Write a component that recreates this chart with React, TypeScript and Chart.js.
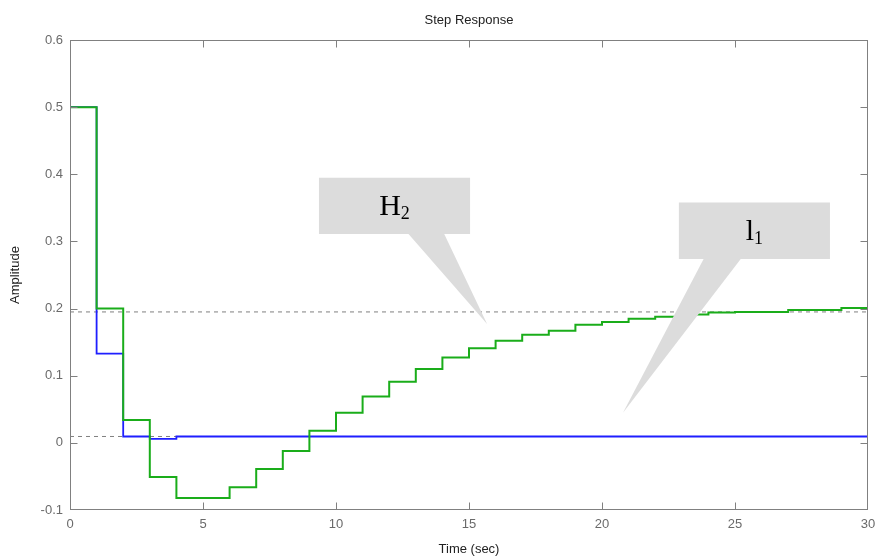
import React, { useEffect, useRef } from "react";
import { Chart, registerables } from "chart.js";

Chart.register(...registerables);

// time samples (sec) – each value holds from t to t+1
const timeSec = [0,1,2,3,4,5,6,7,8,9,10,11,12,13,14,15,16,17,18,19,20,21,22,23,24,25,26,27,28,29,30];
const greenH2 = [0.5,0.2,0.034,-0.051,-0.082,-0.082,-0.066,-0.039,-0.012,0.018,0.045,0.069,0.091,0.110,0.127,0.141,0.152,0.161,0.167,0.176,0.180,0.185,0.188,0.191,0.194,0.195,0.195,0.198,0.198,0.201,0.201];
const blueL1 = [0.5,0.133,0.0095,0.006,0.0095,0.0095,0.0095,0.0095,0.0095,0.0095,0.0095,0.0095,0.0095,0.0095,0.0095,0.0095,0.0095,0.0095,0.0095,0.0095,0.0095,0.0095,0.0095,0.0095,0.0095,0.0095,0.0095,0.0095,0.0095,0.0095,0.0095];
const steadyH2 = 0.195;
const steadyL1 = 0.0095;
const xTicks = [0,5,10,15,20,25,30];
const yTicks = [-0.1,0,0.1,0.2,0.3,0.4,0.5,0.6];

// callouts: box (t0,t1,vTop,vBot), tail base (tA,tB), tip (tTip,vTip)
const callouts = [
  { main: "H", sub: "2", t0: 9.36, t1: 15.04, vTop: 0.395, vBot: 0.311, tA: 12.71, tB: 14.06, tTip: 15.68, vTip: 0.177 },
  { main: "l", sub: "1", t0: 22.89, t1: 28.57, vTop: 0.358, vBot: 0.274, tA: 23.83, tB: 25.23, tTip: 20.79, vTip: 0.045 },
];

const frameColor = "#808080";

const framePlugin = {
  id: "matlabFrame",
  afterDatasetsDraw(chart: any) {
    const { ctx, chartArea: a, scales } = chart;
    const xs = scales.x, ys = scales.y;
    ctx.save();
    for (const c of callouts) {
      const l = xs.getPixelForValue(c.t0), r = xs.getPixelForValue(c.t1);
      const t = ys.getPixelForValue(c.vTop), b = ys.getPixelForValue(c.vBot);
      ctx.fillStyle = "#dcdcdc";
      ctx.beginPath();
      ctx.rect(l, t, r - l, b - t);
      ctx.fill();
      ctx.beginPath();
      ctx.moveTo(xs.getPixelForValue(c.tA), b - 0.5);
      ctx.lineTo(xs.getPixelForValue(c.tB), b - 0.5);
      ctx.lineTo(xs.getPixelForValue(c.tTip), ys.getPixelForValue(c.vTip));
      ctx.closePath();
      ctx.fill();
      ctx.fillStyle = "#000";
      ctx.textBaseline = "alphabetic";
      ctx.textAlign = "left";
      const mainFont = "30px 'Liberation Serif', 'Times New Roman', serif";
      const subFont = "18px 'Liberation Serif', 'Times New Roman', serif";
      ctx.font = mainFont;
      const mw = ctx.measureText(c.main).width;
      ctx.font = subFont;
      const sw = ctx.measureText(c.sub).width;
      const cx = (l + r) / 2, cy = (t + b) / 2;
      const x0 = cx - (mw + sw) / 2;
      ctx.font = mainFont;
      ctx.fillText(c.main, x0, cy + 9);
      ctx.font = subFont;
      ctx.fillText(c.sub, x0 + mw, cy + 13);
    }
    ctx.strokeStyle = frameColor;
    ctx.lineWidth = 1;
    const L = Math.round(a.left) + 0.5, R = Math.round(a.right) - 0.5;
    const T = Math.round(a.top) + 0.5, B = Math.round(a.bottom) - 0.5;
    ctx.strokeRect(L, T, R - L, B - T);
    const tl = 7;
    const clamp = (v: number, lo: number, hi: number) => Math.min(Math.max(v, lo), hi);
    ctx.beginPath();
    for (const v of xTicks) {
      const px = clamp(Math.round(xs.getPixelForValue(v)) + 0.5, L, R);
      ctx.moveTo(px, B); ctx.lineTo(px, B - tl);
      ctx.moveTo(px, T); ctx.lineTo(px, T + tl);
    }
    for (const v of yTicks) {
      const py = clamp(Math.round(ys.getPixelForValue(v)) + 0.5, T, B);
      ctx.moveTo(L, py); ctx.lineTo(L + tl, py);
      ctx.moveTo(R, py); ctx.lineTo(R - tl, py);
    }
    ctx.stroke();
    ctx.restore();
  },
};

function toPts(ys: number[]) {
  return timeSec.map((t, i) => ({ x: t, y: ys[i] }));
}

export default function App() {
  const ref = useRef<HTMLCanvasElement | null>(null);
  useEffect(() => {
    if (!ref.current) return;
    const font = "'Liberation Sans', Arial, sans-serif";
    const chart = new Chart(ref.current, {
      type: "line",
      data: {
        datasets: [
          {
            label: "H2",
            data: toPts(greenH2),
            borderColor: "#1aad1a",
            borderWidth: 2,
            stepped: "before",
            pointRadius: 0,
            fill: false,
            order: 0,
          },
          {
            label: "l1",
            data: toPts(blueL1),
            borderColor: "#1f1fff",
            borderWidth: 1.8,
            stepped: "before",
            pointRadius: 0,
            fill: false,
            order: 1,
          },
          {
            label: "steady H2",
            data: [{ x: timeSec[0], y: steadyH2 }, { x: timeSec[timeSec.length - 1], y: steadyH2 }],
            borderColor: "#808080",
            borderWidth: 1,
            borderDash: [4, 4],
            pointRadius: 0,
            order: 2,
          },
          {
            label: "steady l1",
            data: [{ x: timeSec[0], y: steadyL1 }, { x: timeSec[timeSec.length - 1], y: steadyL1 }],
            borderColor: "#808080",
            borderWidth: 1,
            borderDash: [4, 4],
            pointRadius: 0,
            order: 2,
          },
        ],
      },
      options: {
        animation: false,
        responsive: true,
        maintainAspectRatio: false,
        layout: { padding: { left: 0, right: 10, top: 0, bottom: 0 } },
        plugins: {
          legend: { display: false },
          tooltip: { enabled: false },
          title: {
            display: true,
            text: "Step Response",
            fullSize: false,
            color: "#222",
            font: { family: font, size: 13, weight: "normal" },
            padding: { top: 12.2, bottom: 12.2 },
          },
        },
        scales: {
          x: {
            type: "linear",
            min: 0,
            max: 30,
            afterBuildTicks: (s: any) => { s.ticks = xTicks.map((v) => ({ value: v })); },
            afterFit: (s: any) => { s.height = 48; s.paddingLeft = 0; s.paddingRight = 0; },
            grid: { display: false, drawTicks: false },
            border: { display: false },
            ticks: {
              color: "#6a6a6a",
              padding: 7,
              font: { family: font, size: 13 },
              callback: (v: any) => String(v),
            },
            title: {
              display: true,
              text: "Time (sec)",
              color: "#222",
              font: { family: font, size: 13 },
              padding: { top: 0, bottom: 1 },
            },
          },
          y: {
            type: "linear",
            min: -0.1,
            max: 0.6,
            afterBuildTicks: (s: any) => { s.ticks = yTicks.map((v) => ({ value: v })); },
            afterFit: (s: any) => { s.width = 70; s.paddingTop = 0; s.paddingBottom = 0; },
            grid: { display: false, drawTicks: false },
            border: { display: false },
            ticks: {
              color: "#6a6a6a",
              padding: 7,
              font: { family: font, size: 13 },
              callback: (v: any) => String(Math.round(v * 10) / 10),
            },
            title: {
              display: true,
              text: "Amplitude",
              color: "#222",
              font: { family: font, size: 13 },
              padding: { top: 8, bottom: 0 },
            },
          },
        },
      },
      plugins: [framePlugin],
    });
    return () => chart.destroy();
  }, []);
  return (
    <div style={{ position: "absolute", left: 0, top: 0, width: 878, height: 558, background: "#fff" }}>
      <canvas ref={ref} />
    </div>
  );
}
